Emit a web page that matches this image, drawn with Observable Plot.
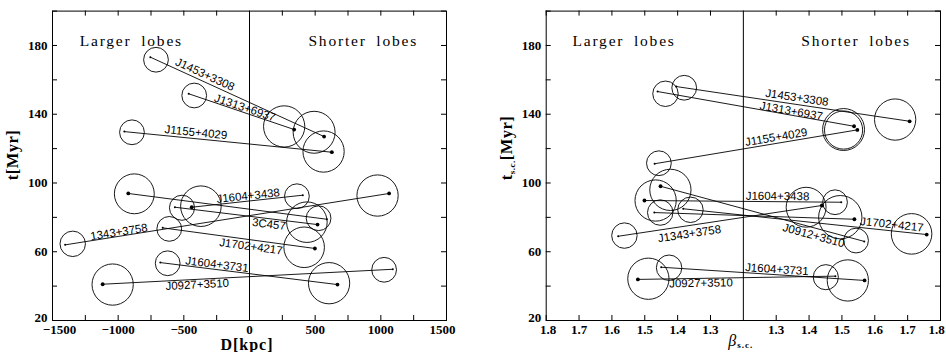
<!DOCTYPE html>
<html>
<head>
<meta charset="utf-8">
<script src="https://cdn.jsdelivr.net/npm/d3@7"></script>
<script src="https://cdn.jsdelivr.net/npm/@observablehq/plot@0.6"></script>
<style>
html,body{margin:0;padding:0;background:#fff;}
#chart{display:flex;width:946px;height:352px;overflow:hidden;background:#fff;}
#chart svg{overflow:visible;color:#000;background:#fff;}
</style>
</head>
<body>
<div id="chart"></div>
<script>
// ---------------- data ----------------
const sourceNames = ["J1453+3308","J1313+6937","J1155+4029","J1604+3438","J1343+3758","J0912+3510","3C457","J1702+4217","J1604+3731","J0927+3510"];
// 1 = the larger lobe carries the big marker (and big circle)
const bigOnLarger = [0,0,0,1,0,1,0,0,0,1];

// Left panel: D [kpc] (larger lobes at negative D), t [Myr]
const dLarger  = [-755,-463,-953,-440,-1404,-923,-568,-661,-679,-1118];
const tLarger  = [173.2,151.9,129.9,85.9,64.0,93.9,85.9,73.9,53.7,41.1];
const dShorter = [568,340,627,406,1063,589,518,498,670,1091];
const tShorter = [127.0,131.1,117.9,92.9,93.9,78.9,75.8,61.9,40.9,49.8];
// error circles: centre (D, t) and radius in Myr
const circDLarger  = [-712,-421,-895,-370,-1346,-877,-514,-611,-623,-1042];
const circTLarger  = [171.7,150.9,129.5,86.5,64.6,93.7,85.6,73.3,53.3,40.9];
const circRLarger  = [7.2,7.2,7.2,11.8,7.4,11.6,7.3,7.2,7.2,12.0];
const circDShorter = [492,264,564,361,975,526,437,416,606,1025];
const circTShorter = [129.5,132.9,118.3,92.3,92.7,79.5,77.2,62.6,41.7,49.5];
const circRShorter = [12.2,12.0,12.0,7.2,12.0,7.2,11.8,11.8,12.0,7.2];

// Right panel: beta_s.c., t_s.c. [Myr]
const bLarger   = [1.404,1.461,1.470,1.501,1.581,1.452,1.471,1.383,1.450,1.521];
const tscLarger = [156.1,153.2,111.2,89.8,69.0,98.1,82.8,85.0,51.0,43.9];
const bShorter   = [1.706,1.537,1.547,1.498,1.439,1.568,1.538,1.758,1.569,1.480];
const tscShorter = [135.9,133.0,130.9,88.8,86.9,66.0,78.9,70.0,43.3,45.8];
const circBLarger  = [1.380,1.437,1.457,1.467,1.562,1.422,1.453,1.361,1.426,1.489];
const circTscLarger = [155.4,151.9,111.5,89.8,69.4,96.0,82.8,84.4,50.7,44.3];
const circRscLarger = [7.2,7.4,7.2,12.0,7.4,12.0,7.4,7.4,7.4,12.0];
const circBShorter  = [1.662,1.505,1.505,1.479,1.391,1.543,1.495,1.712,1.518,1.451];
const circTscShorter = [136.9,131.1,130.8,88.8,85.9,66.5,80.1,70.4,43.3,45.2];
const circRscShorter = [12.0,12.2,11.1,7.2,11.6,7.2,12.6,11.8,12.0,7.3];

// source labels
const labelLeftText = ["J1453+3308","J1313+6937","J1155+4029","J1604+3438","1343+3758","3C457","J1702+4217","J1604+3731","J0927+3510"];
const labelLeftD    = [-339,-35,-408,-10,-994,148,11,-248,-398];
const labelLeftT    = [163.1,143.7,129.4,92.5,71.4,76.0,63.0,52.6,40.8];
const labelLeftPair = [0,1,2,3,4,6,7,8,9];

const labelRightText = ["J1453+3308","J1313+6937","J1155+4029","J1604+3438","J1343+3758","J0912+3510","J1702+4217","J1604+3731","J0927+3510"];
const labelRightBeta = [1.363,1.346,1.300,1.304,1.364,1.414,1.652,1.302,1.329];
const labelRightSide = [1,1,1,1,-1,1,1,1,-1];   // -1 larger-lobe side, +1 shorter-lobe side
const labelRightT    = [149.6,141.8,126.6,92.3,70.4,69.4,75.8,49.7,41.7];
const labelRightPair = [0,1,2,3,4,5,7,8,9];

// axes
const yTickValues = [20,40,60,80,100,120,140,160,180,200];
const yTickLabels = [20,60,100,140,180];
const dTickValues = [-1250,-1000,-750,-500,-250,250,500,750,1000,1250];
const dTickLabels = [-1500,-1000,-500,0,500,1000,1500];
const betaTickLabels = [1.8,1.7,1.6,1.5,1.4,1.3];
const betaFold = 1.2;

const headingText = ["Larger lobes","Shorter lobes"];
const headingLeftD = [-900, 866];
const headingRightBeta = [1.563, 1.543];
const headingSide = [-1, 1];
const headingT = 182.3;

// ---------------- layout ----------------
const W = 473, H = 352, MT = 10.6, MB = 32;
const FH = H - MT - MB;
const KY = FH / 180;
const TL = 5;
const serif = "'Liberation Serif', 'DejaVu Serif', serif";
const sans = "'Liberation Sans', 'DejaVu Sans', sans-serif";

function angleOf(p, kx) {
  return Math.atan2(-(p.y2 - p.y1) * KY, (p.x2 - p.x1) * kx) * 180 / Math.PI;
}

function panel({marginLeft, marginRight, xDomain, xTicks, xLabels, xFormat, firstDx, lastDx, pairs, ends, circles, labels, headings, kx}) {
  const FW = W - marginLeft - marginRight;
  const axisText = {tickSize: 0, tickPadding: 4.5, tickFormat: xFormat, label: null,
    fontSize: 13, fontWeight: "bold", fontFamily: serif};
  const axisYText = {tickSize: 0, tickPadding: 5, tickFormat: d => String(d), label: null,
    fontSize: 13, fontWeight: "bold", fontFamily: serif};
  return Plot.plot({
    width: W, height: H,
    marginLeft, marginRight, marginTop: MT, marginBottom: MB,
    style: {background: "#fff", color: "#000", overflow: "visible"},
    x: {domain: xDomain},
    y: {domain: [20, 200]},
    r: {type: "linear", domain: [0, 10], range: [0, 10 * KY]},
    marks: [
      Plot.frame({stroke: "#000", strokeWidth: 1}),
      Plot.ruleX([0], {stroke: "#000", strokeWidth: 1}),
      Plot.tickX(xTicks, {x: d => d, insetTop: FH - TL, stroke: "#000"}),
      Plot.tickX(xTicks, {x: d => d, insetBottom: FH - TL, stroke: "#000"}),
      Plot.tickY(yTickValues, {y: d => d, insetRight: FW - TL, stroke: "#000"}),
      Plot.tickY(yTickValues, {y: d => d, insetLeft: FW - TL, stroke: "#000"}),
      Plot.axisX(xLabels.slice(1, -1), axisText),
      Plot.axisX(xLabels.slice(0, 1), {...axisText, dx: firstDx}),
      Plot.axisX(xLabels.slice(-1), {...axisText, dx: lastDx}),
      Plot.axisY(yTickLabels.slice(1), axisYText),
      Plot.axisY(yTickLabels.slice(0, 1), {...axisYText, dy: -2.5}),
      Plot.link(pairs, {x1: "x1", y1: "y1", x2: "x2", y2: "y2", stroke: "#000", strokeWidth: 0.9}),
      Plot.dot(circles, {x: "x", y: "y", r: "r", stroke: "#000", strokeWidth: 0.9, fill: "none"}),
      Plot.dot(ends.filter(d => d.big), {x: "x", y: "y", r: 1.9, fill: "#000", stroke: "none"}),
      Plot.dot(ends.filter(d => !d.big), {x: "x", y: "y", r: 1.0, fill: "#000", stroke: "none"}),
      Plot.text(labels, {x: "x", y: "y", text: "text", rotate: d => angleOf(pairs[d.pair], kx),
        fontSize: 11.5, fontFamily: sans, fill: "#000"}),
      Plot.text(headings, {x: "x", y: "y", text: "text", fontSize: 15.5, fontFamily: serif, fill: "#000"})
    ]
  });
}

// ---------- left panel ----------
const kxL = (W - 52 - 27) / 3000;
const pairsL = sourceNames.map((n, i) => ({x1: dLarger[i], y1: tLarger[i], x2: dShorter[i], y2: tShorter[i]}));
const endsL = sourceNames.flatMap((n, i) => [
  {x: dLarger[i], y: tLarger[i], big: bigOnLarger[i] === 1},
  {x: dShorter[i], y: tShorter[i], big: bigOnLarger[i] !== 1}
]);
const circL = sourceNames.flatMap((n, i) => [
  {x: circDLarger[i], y: circTLarger[i], r: circRLarger[i]},
  {x: circDShorter[i], y: circTShorter[i], r: circRShorter[i]}
]);
const labelsL = labelLeftText.map((t, i) => ({text: t, x: labelLeftD[i], y: labelLeftT[i], pair: labelLeftPair[i]}));
const headL = headingText.map((t, i) => ({text: t, x: headingLeftD[i], y: headingT}));

const left = panel({
  marginLeft: 52, marginRight: 27, xDomain: [-1500, 1500],
  xTicks: dTickValues, xLabels: dTickLabels, firstDx: 7, lastDx: -4,
  xFormat: d => d < 0 ? "\u2212" + Math.abs(d) : String(d),
  pairs: pairsL, ends: endsL, circles: circL, labels: labelsL, headings: headL, kx: kxL
});

// ---------- right panel (folded beta axis) ----------
const fold = (b, side) => side * (b - betaFold);
const kxR = (W - 72.7 - 6) / 1.2;
const pairsR = sourceNames.map((n, i) => ({x1: fold(bLarger[i], -1), y1: tscLarger[i], x2: fold(bShorter[i], 1), y2: tscShorter[i]}));
const endsR = sourceNames.flatMap((n, i) => [
  {x: fold(bLarger[i], -1), y: tscLarger[i], big: bigOnLarger[i] === 1},
  {x: fold(bShorter[i], 1), y: tscShorter[i], big: bigOnLarger[i] !== 1}
]);
const circR = sourceNames.flatMap((n, i) => [
  {x: fold(circBLarger[i], -1), y: circTscLarger[i], r: circRscLarger[i]},
  {x: fold(circBShorter[i], 1), y: circTscShorter[i], r: circRscShorter[i]}
]);
const labelsR = labelRightText.map((t, i) => ({text: t, x: fold(labelRightBeta[i], labelRightSide[i]), y: labelRightT[i], pair: labelRightPair[i]}));
const headR = headingText.map((t, i) => ({text: t, x: fold(headingRightBeta[i], headingSide[i]), y: headingT}));
const betaTicks = [...betaTickLabels.map(b => fold(b, -1)), ...betaTickLabels.slice().reverse().map(b => fold(b, 1))];

const right = panel({
  marginLeft: 72.7, marginRight: 6, xDomain: [-0.6, 0.6],
  xTicks: betaTicks, xLabels: betaTicks, firstDx: 2, lastDx: -4,
  xFormat: u => (betaFold + Math.abs(u)).toFixed(1),
  pairs: pairsR, ends: endsR, circles: circR, labels: labelsR, headings: headR, kx: kxR
});

// ---------- axis titles (added as real SVG text) ----------
function addTitles(svg, marginLeft, marginRight, xTitleY, xTitle, yTitle) {
  const s = d3.select(svg);
  const cx = marginLeft + (W - marginLeft - marginRight) / 2;
  const xt = s.append("text")
    .attr("x", cx - 2).attr("y", xTitleY)
    .attr("text-anchor", "middle")
    .style("font-family", serif).style("font-size", "16px").style("font-weight", "bold")
    .style("letter-spacing", "1px").attr("fill", "#000");
  xTitle(xt);
  const yt = s.append("text")
    .attr("transform", `translate(${marginLeft - 34},${MT + FH / 2 + 15}) rotate(-90)`)
    .attr("text-anchor", "start")
    .style("font-family", serif).style("font-size", "16.5px").style("font-weight", "bold")
    .style("letter-spacing", "0.5px").attr("fill", "#000");
  yTitle(yt);
  // heading spacing
  s.selectAll("text").filter(function() { return headingText.includes(this.textContent); })
    .style("letter-spacing", "1.8px").style("word-spacing", "4px");
}

addTitles(left, 52, 27, 350,
  t => t.text("D[kpc]"),
  t => t.text("t[Myr]"));
addTitles(right, 72.7, 6, 345.5,
  t => {
    t.append("tspan").style("font-style", "italic").style("font-weight", "normal").text("\u03B2");
    t.append("tspan").attr("dy", 2.5).style("font-size", "9px").text("s.c.");
  },
  t => {
    t.append("tspan").text("t");
    t.append("tspan").attr("dy", 3).style("font-size", "9px").text("s.c.");
    t.append("tspan").attr("dy", -3).text("[Myr]");
  });

document.getElementById("chart").append(left, right);
</script>
</body>
</html>
